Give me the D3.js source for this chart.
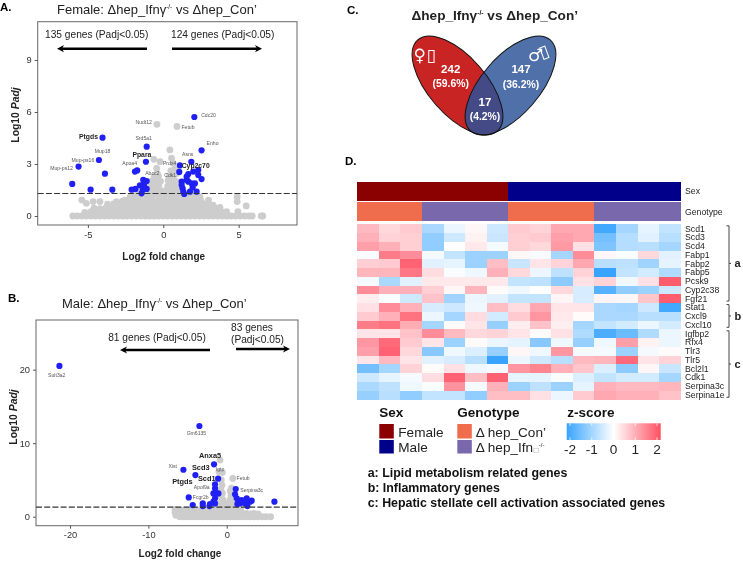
<!DOCTYPE html>
<html>
<head>
<meta charset="utf-8">
<script src="https://cdnjs.cloudflare.com/ajax/libs/d3/7.8.5/d3.min.js"></script>
<style>
  html, body { margin: 0; padding: 0; background: #fff; }
  svg { display: block; font-family: "Liberation Sans", Arial, sans-serif; filter: blur(0.35px); }
  .tick text { fill: #333; }
</style>
</head>
<body>
<div id="figure"></div>
<script>
// Values

// panel A: female volcano, [log2fc, log10 padj]
var femaleBlue = [[2.06,5.71],[-4.03,4.52],[-1.1,4.0],[2.54,3.79],[-4.27,3.23],[-5.62,2.85],[-3.87,2.44],[-1.15,3.13],
  [1.86,3.13],[1.1,2.92],[-1.88,2.56],[-1.73,2.63],[1.06,2.54],[-6.04,1.85],[-4.82,1.52],[-3.38,1.52],[-2.1,1.52],
  [-1.84,1.56],[-1.55,1.77],[-1.33,2.08],[-1.1,2.02],[-1.28,1.85],[-1.37,1.5],[-1.1,1.56],[-1.44,1.31],[-1.26,1.65],
  [1.22,1.98],[1.28,1.6],[1.39,1.27],[1.55,2.27],[1.66,2.42],[1.66,1.98],[1.88,1.88],[1.99,2.56],[2.32,2.65],
  [2.32,2.37],[2.54,2.13],[2.1,1.88],[1.77,1.4],[2.21,1.4],[1.33,1.4],[1.95,1.65],[1.55,2.08],[1.22,1.79]];
var femaleGrey = [[-0.42,5.29],[0.91,5.17],[0.44,3.81],[0.55,3.33],[0.66,3.04],[-0.62,3.27],[-0.22,3.13],[-0.44,2.75],
  [-0.4,2.46],[-5.4,0.92],[-5.1,0.73],[-4.65,0.83],[-4.2,0.83],[-3.1,0.83],[-2.55,0.92],[-2.2,1.1],[-1.77,1.3],
  [2.43,1.1],[3,0.92],[3.3,0.63],[3.76,0.5],[4.2,0.25],[4.9,1.1],[4.9,0.83],[5.5,0.58],[4.95,0.25],[5.9,0],[6.5,0],[6.6,0],
  [-6,0],[-5.7,0],[-5.4,0],[-5.1,0],[-4.8,0],[-4.5,0],[-4.2,0],[-3.9,0],[-3.6,0],[-3.3,0],[-3,0],[-2.7,0],[-2.4,0],[-2.1,0],
  [-1.8,0],[-1.5,0],[-1.2,0],[-0.9,0],[-0.6,0],[-0.3,0],[0,0],[0.3,0],[0.6,0],[0.9,0],[1.2,0],[1.5,0],[1.8,0],[2.1,0],[2.4,0],
  [2.7,0],[3,0],[3.3,0],[3.6,0],[3.9,0],[4.2,0],[4.5,0],[4.8,0],[5.1,0],[5.4,0],[5.7,0],
  [-5.2,0.2],[-4.8,0.25],[-4.4,0.2],[-4,0.22],[-3.6,0.2],[-3.2,0.25],[-2.8,0.2],[-2.4,0.22],[-2,0.2],[-1.6,0.25],[-1.2,0.2],
  [-0.8,0.22],[-0.4,0.2],[0,0.25],[0.4,0.2],[0.8,0.22],[1.2,0.2],[1.6,0.25],[2,0.2],[2.4,0.22],[2.8,0.2],[3.2,0.25],[3.6,0.2],[4,0.22],
  [-4.6,0.45],[-4.2,0.42],[-3.8,0.48],[-3.4,0.45],[-3,0.42],[-2.6,0.48],[-2.2,0.45],[-1.8,0.42],[-1.4,0.48],[-1,0.45],[-0.6,0.42],
  [-0.2,0.48],[0.2,0.45],[0.6,0.42],[1,0.48],[1.4,0.45],[1.8,0.42],[2.2,0.48],[2.6,0.45],[3,0.42],[3.4,0.48],
  [-3.7,0.68],[-3.3,0.7],[-2.9,0.66],[-2.5,0.7],[-2.1,0.68],[-1.7,0.7],[-1.3,0.66],[-0.9,0.7],[-0.5,0.68],[-0.1,0.7],[0.3,0.66],
  [0.7,0.7],[1.1,0.68],[1.5,0.7],[1.9,0.66],[2.3,0.7],[2.7,0.68],[3.05,0.66],
  [-2.7,0.85],[-2.3,0.9],[-1.9,0.95],[-1.5,0.92],[-1.1,0.95],[-0.7,0.9],[-0.3,0.95],[0.1,0.9],[0.5,0.95],[0.9,0.92],[1.3,0.95],[1.7,0.9],[2.1,0.95],[2.5,0.88],
  [-1.9,1.15],[-1.5,1.2],[-1.1,1.15],[-0.7,1.2],[-0.3,1.15],[0.1,1.2],[0.5,1.15],[0.9,1.2],[1.3,1.15],[1.7,1.2],[2.1,1.15],
  [-1.05,1.45],[-0.7,1.45],[-0.35,1.42],[0,1.45],[0.35,1.42],[0.7,1.45],[1.05,1.42],
  [-0.9,1.75],[-0.6,1.72],[-0.3,1.75],[0.3,1.72],[0.6,1.75],[0.9,1.7],
  [-0.75,2.02],[-0.45,2.05],[-0.18,2.0],[0.32,2.05],[0.6,2.02],[0.85,2.0],
  [-0.6,2.28],[-0.32,2.3],[0.4,2.32],[0.68,2.3],[0.9,2.45],[0.5,2.6],[0.75,2.7]];
var femaleLabels = [
  ["Cdc20",3.0,5.83,0],["Nudt12",-1.3,5.42,0],["Fetub",1.64,5.15,0],["Srd5a1",-1.3,4.46,0],["Ptgds",-4.96,4.56,1],
  ["Mup18",-4.03,3.75,0],["Enho",3.27,4.19,0],["Mup-ps16",-5.33,3.23,0],["Mup-ps12",-6.75,2.75,0],["Ppara",-1.42,3.52,1],
  ["Apoa4",-2.23,3.06,0],["Asns",1.62,3.56,0],["Prdx4",0.42,3.06,0],["Cyp2c70",2.15,2.92,1],["Abcc2",-0.73,2.48,0],["Cdk1",0.46,2.33,0]];

// panel B: male volcano
var maleBlue = [[-21.36,20.5],[-3.49,12.34],[-1.62,7.12],[-5.53,6.39],[-4,5.67],[-1.1,5.17],[-1.49,4.4],[-1.49,3.85],
  [-1.7,3.17],[-1.28,3.17],[-1.06,3.17],[-1.49,2.5],[-4.85,2.63],[-4.34,1.59],[-3.06,1.81],[-3.06,1.45],[-2.13,1.72],
  [-2.2,1.45],[-1.7,2.04],[-1.49,1.81],[1.15,3.76],[1.06,3.04],[1.28,2.5],[1.49,2.04],[1.7,1.81],[1.36,1.72],[2.13,2.04],
  [2.55,2.5],[2.98,2.04],[3.19,2.18],[2.64,1.45],[2.34,1.81],[1.91,2.27],[6.09,2.04]];
var maleGrey = [[-0.85,7.7],[-1,6.1],[-0.55,6],[0.77,5.2],[0.6,3.9],[0.75,3.3],[0.45,3.5],[0.55,2.9],[0.75,2.6],[0.45,2.3],[0.8,2],
  [-0.7,5],[-0.6,4.3],[-0.75,3.7],[-0.55,3.2],[-0.7,2.7],[-0.45,2.3],[-0.7,2],[-0.3,1.8],[0.3,1.8],
  [-6.6,1],[-6.6,0.6],[-6.5,0.2],[-6.2,0.9],[-5.8,0.85],[-5.4,0.9],[-5,0.8],[-4.6,0.9],[-4.2,0.85],[-3.8,0.9],[-3.4,0.8],[-3,0.9],
  [-2.6,0.85],[-2.2,0.9],[-1.8,0.85],[-1.4,0.9],[-1,0.85],[-0.6,0.9],[-0.2,0.85],[0.2,0.9],[0.6,0.85],[1,0.9],[1.4,0.85],[1.8,0.9],
  [-1.2,1.4],[-0.9,1.4],[-0.6,1.35],[-0.3,1.4],[0,1.35],[0.3,1.4],[0.6,1.35],[0.9,1.4],
  [-6,0.4],[-5.5,0.45],[-5,0.4],[-4.5,0.45],[-4,0.4],[-3.5,0.45],[-3,0.4],[-2.5,0.45],[-2,0.4],[-1.5,0.45],[-1,0.4],[-0.5,0.45],
  [0,0.4],[0.5,0.45],[1,0.4],[1.5,0.45],[2,0.4],[2.5,0.45],[3,0.4],[3.5,0.45],[4,0.4],
  [-6,0],[-5.5,0],[-5,0],[-4.5,0],[-4,0],[-3.5,0],[-3,0],[-2.5,0],[-2,0],[-1.5,0],[-1,0],[-0.5,0],[0,0],[0.5,0],[1,0],[1.5,0],[2,0],
  [2.5,0],[3,0],[3.5,0],[4,0],[4.5,0],[5,0],[5.6,0]];
var maleLabels = [
  ["Sult3a2",-21.7,19.3,0],["Gm6135",-3.87,11.3,0],["Anxa5",-2.13,8.34,1],["Xist",-6.9,6.9,0],["Scd3",-3.32,6.76,1],
  ["Igtp",-0.85,6.4,0],["Scd1",-2.55,5.26,1],["Fetub",2.09,5.26,0],["Ptgds",-5.66,4.76,1],["Apol9a",-3.19,3.95,0],
  ["Serpina3c",3.19,3.63,0],["Fcgr2b",-3.32,2.72,0]];

// panel D: heatmap
var genes = ["Scd1","Scd3","Scd4","Fabp1","Fabp2","Fabp5","Pcsk9","Cyp2c38","Fgf21","Stat1","Cxcl9","Cxcl10",
  "Igfbp2","Rfx4","Tlr3","Tlr5","Bcl2l1","Cdk1","Serpina3c","Serpina1e"];
var sexRow = ["F","F","F","F","F","F","F","M","M","M","M","M","M","M","M"];
var genotypeRow = ["C","C","C","I","I","I","I","C","C","C","C","I","I","I","I"];
var zscores = [
  [.8,.45,.6,-.85,-.2,.1,-.5,.6,.5,1,1,-1.9,-.9,-.25,-.6],
  [.9,.5,.55,-1.1,-.5,.15,-.55,.55,.6,1.1,1,-1.4,-.75,-.3,-.7],
  [1.1,.9,.55,-1.1,0,.25,-.1,.55,.45,1.15,.35,-1.3,-.75,-.7,-.9],
  [-.05,1.5,1.3,-.1,-.6,-1,-1,.1,-.08,-.9,1.3,.1,-.05,.45,-.3],
  [.55,.6,1.8,-.3,-.25,-1,.75,-.55,.3,.5,1,-.7,-.65,-.95,-.25],
  [.85,.85,1.55,.4,-.05,-.15,.9,.45,-.2,-.65,.5,-2,-.6,-.45,-.8],
  [-.1,-.85,-.3,.25,.25,.25,.25,-.6,-.65,-1.15,.35,.5,-.15,.35,1.85],
  [1.3,.9,.9,.55,.1,.85,.05,-.15,0,.45,-.4,-1.7,-1.1,-1,-.5],
  [.2,-.05,-.5,.7,-.95,-.2,-.3,-.6,-.6,.12,-.4,.12,.1,.65,1.85],
  [.35,1.3,.9,-.4,-.5,-.15,.75,.4,1,.3,.3,-.85,-.9,-.5,-1.9],
  [.6,.9,1.6,-.2,-.9,.4,-.45,.6,1.2,.25,.05,-.85,-.85,-.7,-.7],
  [1.5,1.6,.95,-.9,.05,.3,-1.05,.2,.7,.2,-.9,-.6,-.45,-.2,-.45],
  [.3,.3,.7,1.3,.8,.45,.5,.3,.05,.35,-.8,-1.8,-1.5,-.8,-.2],
  [1.2,1.7,.6,.3,-1,.05,-.2,-.25,-1.2,-.15,-1.05,-.15,1.1,.15,-.2],
  [1.1,1.8,.45,-1.2,-.15,-.35,-1.05,.1,-.15,1.2,-.1,-.1,-1,-.1,.05],
  [.3,.8,.3,-.3,-.4,-.7,-2,-.2,-.5,-.7,.8,.85,1.7,.3,.5],
  [-1.4,-.9,.5,.05,.35,-.15,-.1,1.2,1.4,.9,.65,-.35,-1.15,.1,-.55],
  [-.5,-.25,-.1,.4,1.8,.75,1.8,-.25,-.25,-.05,-.35,-.6,-.45,-.45,-.9],
  [-.85,-.65,-.15,-.05,1.25,-.1,.9,-1,-.65,-1,-.25,.9,.8,.8,.85],
  [-1.05,-.7,-1.1,-.6,-.6,-1.1,.75,.75,.35,-.2,.6,1,.9,.9,.7]
];
var zTicks = [-2,-1,0,1,2];
// gene index ranges of the three brackets
var groups = [["a",0,8],["b",9,11],["c",12,19]];
var notes = ["a: Lipid metabolism related genes","b: Inflammatory genes","c: Hepatic stellate cell activation associated genes"];

var BLUE = "#2020f4", GREY = "#cdcdcd", AXIS = "#555";

var svg = d3.select("#figure").append("svg").attr("width", 743).attr("height", 561);

function panelLetter(t, x, y) {
  svg.append("text").attr("x", x).attr("y", y).attr("font-size", 11.5).attr("font-weight", "bold").text(t);
}

// title with small superscript
function title(x, y, size, bold, before, after) {
  var t = svg.append("text").attr("x", x).attr("y", y).attr("font-size", size)
    .attr("font-weight", bold ? "bold" : "normal").attr("fill", "#222");
  t.append("tspan").text(before);
  t.append("tspan").attr("font-size", size * 0.5).attr("dy", -size * 0.35).text("-/-");
  t.append("tspan").attr("dy", size * 0.35).text(after);
}

function arrow(x1, x2, y, w) {
  var dir = x2 > x1 ? 1 : -1;
  svg.append("line").attr("x1", x1).attr("x2", x2 - dir * 3).attr("y1", y).attr("y2", y)
    .attr("stroke", "#000").attr("stroke-width", w);
  svg.append("path").attr("d", `M${x2},${y}L${x2 - dir * 7},${y - 3.6}L${x2 - dir * 5},${y}L${x2 - dir * 7},${y + 3.6}Z`);
}

function volcano(o) {
  var x = d3.scaleLinear().domain(o.xDomain).range([o.left, o.right]);
  var y = d3.scaleLinear().domain(o.yDomain).range([o.bottom, o.top]);

  svg.append("rect").attr("x", o.left).attr("y", o.top).attr("width", o.right - o.left).attr("height", o.bottom - o.top)
    .attr("fill", "none").attr("stroke", "#666").attr("stroke-width", 1);

  var xAxis = svg.append("g").attr("transform", `translate(0,${o.bottom})`)
    .call(d3.axisBottom(x).tickValues(o.xTicks).tickSize(3).tickFormat(String));
  var yAxis = svg.append("g").attr("transform", `translate(${o.left},0)`)
    .call(d3.axisLeft(y).tickValues(o.yTicks).tickSize(3).tickFormat(String));
  [xAxis, yAxis].forEach(function (a) {
    a.select(".domain").remove();
    a.selectAll("line").attr("stroke", AXIS);
    a.selectAll("text").attr("font-size", 9.3).attr("font-family", "inherit");
  });

  svg.append("g").selectAll("circle").data(o.grey).enter().append("circle")
    .attr("cx", d => x(d[0])).attr("cy", d => y(d[1])).attr("r", 3.4).attr("fill", GREY);
  svg.append("g").selectAll("circle").data(o.blue).enter().append("circle")
    .attr("cx", d => x(d[0])).attr("cy", d => y(d[1])).attr("r", 3.1).attr("fill", BLUE);

  svg.append("line").attr("x1", o.left).attr("x2", o.right).attr("y1", y(1.3)).attr("y2", y(1.3))
    .attr("stroke", "#333").attr("stroke-width", 1.1).attr("stroke-dasharray", "6,2.2");

  svg.append("g").selectAll("text").data(o.labels).enter().append("text")
    .attr("x", d => x(d[1])).attr("y", d => y(d[2])).attr("dy", "0.35em").attr("text-anchor", "middle")
    .attr("font-size", d => d[3] ? o.boldSize : 5.1).attr("font-weight", d => d[3] ? "bold" : "normal")
    .attr("fill", d => d[3] ? "#222" : "#555").text(d => d[0]);

  svg.append("text").attr("x", o.xLabelX).attr("y", o.xLabelY).attr("text-anchor", "middle")
    .attr("font-size", 10).attr("font-weight", "bold").attr("fill", "#222").text("Log2 fold change");
  var yl = svg.append("text").attr("transform", `translate(${o.yLabelX},${o.yLabelY}) rotate(-90)`)
    .attr("text-anchor", "middle").attr("font-size", 10.4).attr("font-weight", "bold").attr("fill", "#222");
  yl.append("tspan").text("Log10 ");
  yl.append("tspan").attr("font-style", "italic").text("Padj");
}

// A
panelLetter("A.", 0, 11);
title(57, 13.5, 13, false, "Female: \u0394hep_Ifn\u03b3", " vs \u0394hep_Con\u2019");
volcano({
  left: 37.7, right: 297, top: 21.7, bottom: 225,
  xDomain: [-8.33, 8.87], yDomain: [-0.52, 11.21],
  xTicks: [-5, 0, 5], yTicks: [0, 3, 6, 9],
  grey: femaleGrey, blue: femaleBlue, labels: femaleLabels, boldSize: 6.8,
  xLabelX: 163.7, xLabelY: 259.5, yLabelX: 18.5, yLabelY: 115
});
svg.append("text").attr("x", 96.7).attr("y", 38).attr("text-anchor", "middle").attr("font-size", 10.2).attr("fill", "#222").text("135 genes (Padj<0.05)");
svg.append("text").attr("x", 222.7).attr("y", 38).attr("text-anchor", "middle").attr("font-size", 10.2).attr("fill", "#222").text("124 genes (Padj<0.05)");
arrow(147, 57, 48.7, 2.4);
arrow(172, 262, 48.7, 2.4);

// B
panelLetter("B.", 8, 302);
title(62, 307.5, 13, false, "Male: \u0394hep_Ifn\u03b3", " vs \u0394hep_Con\u2019");
volcano({
  left: 36, right: 298, top: 320, bottom: 525.7,
  xDomain: [-24.35, 9.1], yDomain: [-1.22, 26.75],
  xTicks: [-20, -10, 0], yTicks: [0, 10, 20],
  grey: maleGrey, blue: maleBlue, labels: maleLabels, boldSize: 7.4,
  xLabelX: 180, xLabelY: 557, yLabelX: 16.5, yLabelY: 417
});
svg.append("text").attr("x", 157).attr("y", 340.5).attr("text-anchor", "middle").attr("font-size", 10.2).attr("fill", "#222").text("81 genes (Padj<0.05)");
svg.append("text").attr("x", 231).attr("y", 330.5).attr("font-size", 10.2).attr("fill", "#222").text("83 genes");
svg.append("text").attr("x", 231).attr("y", 343).attr("font-size", 10.2).attr("fill", "#222").text("(Padj<0.05)");
arrow(210, 120, 350, 2.4);
arrow(236, 290, 349, 2.4);

// C: venn
panelLetter("C.", 347, 14);
title(411.5, 19.5, 13.6, true, "\u0394hep_Ifn\u03b3", " vs \u0394hep_Con\u2019");
var defs = svg.append("defs");
var leftE = { cx: 457.5, cy: 85.5, rx: 60.5, ry: 29, rot: 49 };
var rightE = { cx: 510.5, cy: 85.5, rx: 60.5, ry: 29, rot: -49 };
function addEllipse(sel, e) {
  return sel.append("ellipse").attr("rx", e.rx).attr("ry", e.ry)
    .attr("transform", `translate(${e.cx},${e.cy}) rotate(${e.rot})`);
}
addEllipse(svg, leftE).attr("fill", "#c82424");
addEllipse(svg, rightE).attr("fill", "#4f70a8");
addEllipse(defs.append("clipPath").attr("id", "clipLeft"), leftE);
addEllipse(svg.append("g").attr("clip-path", "url(#clipLeft)"), rightE).attr("fill", "#434a86");
addEllipse(svg, leftE).attr("fill", "none").attr("stroke", "#111").attr("stroke-width", 1);
addEllipse(svg, rightE).attr("fill", "none").attr("stroke", "#111").attr("stroke-width", 1);
var vennText = [["242",450.7,73.3,11.5],["(59.6%)",450.7,87,10.4],["147",521,73.3,11.5],["(36.2%)",521,87.5,10.4],["17",485,106,11.5],["(4.2%)",485,120,10.4]];
svg.append("g").selectAll("text").data(vennText).enter().append("text")
  .attr("x", d => d[1]).attr("y", d => d[2]).attr("text-anchor", "middle").attr("fill", "#fff")
  .attr("font-weight", "bold").attr("font-size", d => d[3]).text(d => d[0]);
var SYMBOL_FONT = "DejaVu Sans";
svg.append("text").attr("x", 413.5).attr("y", 61).attr("font-size", 17).attr("fill", "#fff").attr("font-family", SYMBOL_FONT).text("\u2640");
svg.append("text").attr("x", 426.5).attr("y", 61).attr("font-size", 17).attr("fill", "#fff").attr("font-family", SYMBOL_FONT).text("\u25af");
svg.append("text").attr("x", 528).attr("y", 61).attr("font-size", 17).attr("fill", "#fff").attr("font-family", SYMBOL_FONT).text("\u2642");
svg.append("text").attr("transform", "translate(541.5,58.5) rotate(-20)").attr("font-size", 17).attr("fill", "#fff").attr("font-family", SYMBOL_FONT).text("\u25af");

// D: heatmap
panelLetter("D.", 345, 165);
var hmX = d3.scaleBand().domain(d3.range(15)).range([357.3, 680.7]);
var hmY = d3.scaleBand().domain(genes).range([224.3, 399.3]);
var zColor = d3.scaleLinear().domain([-2, 0, 2]).range(["#38a4ff", "#ffffff", "#ff5062"]);
var sexColor = { F: "#8b0000", M: "#00008b" };
var genoColor = { C: "#ef6c4c", I: "#7a68ad" };

svg.append("g").attr("shape-rendering", "crispEdges").selectAll("rect").data(sexRow).enter().append("rect")
  .attr("x", (d, i) => hmX(i)).attr("y", 181.7).attr("width", hmX.bandwidth() + 0.5).attr("height", 19).attr("fill", d => sexColor[d]);
svg.append("g").attr("shape-rendering", "crispEdges").selectAll("rect").data(genotypeRow).enter().append("rect")
  .attr("x", (d, i) => hmX(i)).attr("y", 202.3).attr("width", hmX.bandwidth() + 0.5).attr("height", 18.4).attr("fill", d => genoColor[d]);

zscores.forEach(function (row, r) {
  svg.append("g").attr("shape-rendering", "crispEdges").selectAll("rect").data(row).enter().append("rect")
    .attr("x", (d, i) => hmX(i)).attr("y", hmY(genes[r]))
    .attr("width", hmX.bandwidth() + 0.5).attr("height", hmY.bandwidth() + 0.5).attr("fill", d => zColor(d));
});

svg.append("g").selectAll("text").data(genes).enter().append("text")
  .attr("x", 685).attr("y", d => hmY(d) + hmY.bandwidth() / 2).attr("dy", "0.35em")
  .attr("font-size", 8.7).attr("fill", "#222").text(d => d);
svg.append("text").attr("x", 685).attr("y", 191).attr("dy", "0.35em").attr("font-size", 8.7).attr("fill", "#222").text("Sex");
svg.append("text").attr("x", 685).attr("y", 211.7).attr("dy", "0.35em").attr("font-size", 8.7).attr("fill", "#222").text("Genotype");

groups.forEach(function (g) {
  var y1 = hmY(genes[g[1]]) + 1.5, y2 = hmY(genes[g[2]]) + hmY.bandwidth() - 2;
  svg.append("path").attr("fill", "none").attr("stroke", "#444").attr("stroke-width", 1)
    .attr("d", `M726.5,${y1}H729V${y2}H726.5M729,${(y1 + y2) / 2}H731`);
  svg.append("text").attr("x", 734.5).attr("y", (y1 + y2) / 2).attr("dy", "0.35em")
    .attr("font-size", 11).attr("font-weight", "bold").attr("fill", "#222").text(g[0]);
});

// legends
[["Sex",379.3],["Genotype",457.3],["z-score",567.3]].forEach(function (d) {
  svg.append("text").attr("x", d[1]).attr("y", 417).attr("font-size", 13.5).attr("font-weight", "bold").attr("fill", "#111").text(d[0]);
});
[[379.3,424,14.5,"#8b0000"],[379.3,440,13.5,"#00008b"],[457.3,424,14.5,"#ef6c4c"],[457.3,440,13.5,"#7a68ad"]].forEach(function (d) {
  svg.append("rect").attr("x", d[0]).attr("y", d[1]).attr("width", 14.5).attr("height", d[2]).attr("fill", d[3]);
});
svg.append("text").attr("x", 398.3).attr("y", 436.5).attr("font-size", 13.6).attr("fill", "#222").text("Female");
svg.append("text").attr("x", 398.3).attr("y", 452).attr("font-size", 13.6).attr("fill", "#222").text("Male");
svg.append("text").attr("x", 475.7).attr("y", 436.5).attr("font-size", 13.6).attr("fill", "#222").text("\u0394 hep_Con\u2019");
var ifn = svg.append("text").attr("x", 475.7).attr("y", 452).attr("font-size", 13.6).attr("fill", "#222");
ifn.append("tspan").text("\u0394 hep_Ifn");
ifn.append("tspan").attr("font-size", 6).attr("fill", "#888").attr("font-family", SYMBOL_FONT).text("\u25a1");
ifn.append("tspan").attr("font-size", 6).attr("dy", -5).text("-/-");

var zX = d3.scaleLinear().domain([-2, 2]).range([570, 657]);
var grad = defs.append("linearGradient").attr("id", "zGrad");
zTicks.forEach(function (t) {
  grad.append("stop").attr("offset", (t + 2) / 4).attr("stop-color", zColor(t));
});
svg.append("rect").attr("x", 566.7).attr("y", 423.3).attr("width", 94).attr("height", 16.7).attr("fill", "url(#zGrad)");
svg.append("g").selectAll("path").data(zTicks).enter().append("path")
  .attr("stroke", "#fff").attr("stroke-width", 0.8)
  .attr("d", d => `M${zX(d)},423.3v2.5M${zX(d)},440v-2.5`);
svg.append("g").selectAll("text").data(zTicks).enter().append("text")
  .attr("x", d => zX(d)).attr("y", 453.5).attr("text-anchor", "middle").attr("font-size", 13.6).attr("fill", "#222").text(d => d);

svg.append("g").selectAll("text").data(notes).enter().append("text")
  .attr("x", 367.7).attr("y", (d, i) => 477 + i * 15).attr("font-size", 12.4).attr("font-weight", "bold").attr("fill", "#111").text(d => d);
</script>
</body>
</html>
